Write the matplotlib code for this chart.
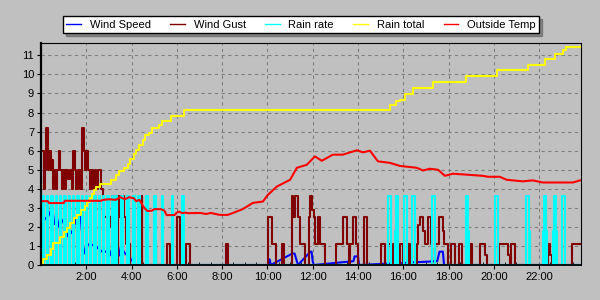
import numpy as np
import matplotlib
matplotlib.use("Agg")
import matplotlib.pyplot as plt
from matplotlib.ticker import MultipleLocator, FixedLocator

plt.rcParams['font.family'] = ['Liberation Sans', 'DejaVu Sans']

# time axis in hours of the day
hour_ticks = [2, 4, 6, 8, 10, 12, 14, 16, 18, 20, 22]
hour_labels = ['2:00', '4:00', '6:00', '8:00', '10:00', '12:00', '14:00',
               '16:00', '18:00', '20:00', '22:00']

# Rain total (step curve)
total_t = [0.08, 0.10, 0.25, 0.45, 0.55, 0.85, 1.0, 1.15, 1.3, 1.45, 1.6, 1.75,
           1.95, 2.05, 2.15, 2.25, 2.35, 2.45, 2.6, 3.1, 3.3, 3.45, 3.65, 3.85,
           3.95, 4.1, 4.2, 4.35, 4.5, 4.6, 4.75, 4.9, 5.2, 5.35, 5.75, 6.3,
           15.41, 15.70, 15.85, 16.07, 16.42, 17.31, 18.79, 20.12, 21.49,
           22.25, 22.69, 23.05, 23.17, 23.85]
total_v = [0.0, 0.3, 0.55, 0.85, 1.15, 1.45, 1.75, 1.95, 2.2, 2.45, 2.6, 2.9,
           3.1, 3.3, 3.5, 3.7, 3.95, 4.1, 4.25, 4.45, 4.7, 4.95, 5.1, 5.3,
           5.55, 5.8, 6.05, 6.3, 6.55, 6.8, 6.95, 7.2, 7.35, 7.55, 7.8, 8.12,
           8.42, 8.6, 8.68, 8.98, 9.3, 9.6, 9.91, 10.23, 10.5,
           10.8, 11.09, 11.3, 11.45, 11.45]

# Outside temperature
temp_t = [0.08, 0.3, 0.35, 1.0, 1.05, 2.65, 2.75, 3.0, 3.3, 3.5, 3.7, 3.9, 4.1,
          4.2, 4.35, 4.5, 4.6, 4.7, 4.9, 5.0, 5.3, 5.45, 5.55, 5.9, 6.0, 6.1,
          6.25, 6.35, 6.5, 7.02, 7.3, 7.5, 7.9, 8.25, 8.48, 8.92, 9.36, 9.8,
          10.02, 10.42, 11.0, 11.3, 11.74, 12.1, 12.4, 12.89, 13.33, 13.95,
          14.22, 14.53, 14.88, 15.41, 15.85, 16.6, 16.87, 17.17, 17.53, 17.84,
          18.19, 18.81, 19.51, 19.74, 20.26, 20.57, 21.28, 21.72, 22.16,
          23.49, 23.8, 23.85]
temp_v = [3.35, 3.35, 3.25, 3.25, 3.37, 3.37, 3.42, 3.45, 3.42, 3.56, 3.45,
          3.56, 3.5, 3.35, 3.42, 3.1, 2.95, 2.83, 2.85, 2.93, 2.93, 2.85, 2.62,
          2.62, 2.75, 2.8, 2.72, 2.75, 2.72, 2.73, 2.68, 2.73, 2.63, 2.63,
          2.73, 2.94, 3.26, 3.33, 3.68, 4.12, 4.47, 5.1, 5.26, 5.7, 5.47, 5.79,
          5.79, 6.02, 5.91, 6.0, 5.44, 5.36, 5.2, 5.1, 4.96, 5.05, 5.0, 4.68,
          4.79, 4.74, 4.68, 4.63, 4.63, 4.47, 4.39, 4.44, 4.33, 4.33, 4.44,
          4.44]

# Wind gust (step curve)
gust_t = [0.08, 0.13, 0.18, 0.22, 0.30, 0.36, 0.42, 0.48, 0.52, 0.58, 0.66,
          0.70, 0.78, 0.84, 0.92, 0.98, 1.05, 1.12, 1.2, 1.28, 1.35, 1.42, 1.5,
          1.56, 1.62, 1.72, 1.8, 1.88, 1.95, 2.0, 2.08, 2.15, 2.22, 2.3, 2.38,
          2.45, 2.52, 2.6, 2.66, 2.72, 2.95, 3.05, 3.12, 3.2, 3.28, 3.38,
          3.45, 3.5, 3.66, 3.75, 3.82, 3.88, 3.95, 4.45, 4.48, 5.05, 5.1, 5.55,
          5.7, 6.0, 6.15, 6.42, 6.58, 8.18, 8.25,
          10.04, 10.21, 10.36, 10.63, 10.73, 11.07, 11.14, 11.21, 11.33, 11.43,
          11.65, 11.85, 11.88, 11.98, 12.06, 12.1, 12.25, 12.32, 12.54,
          13.02, 13.35, 13.5, 13.62, 13.64, 13.76, 13.91, 14.0, 14.26, 14.38,
          15.01, 15.19, 15.33, 15.48, 15.55, 15.65, 15.85, 15.98, 16.19, 16.29,
          16.59, 16.66, 16.73, 16.88, 16.98, 17.1, 17.22, 17.28, 17.4, 17.6,
          17.76, 17.8, 17.98, 18.1, 18.3, 18.45, 18.6, 18.94, 19.04, 19.41,
          19.6, 19.7, 20.22, 20.63, 20.7, 20.78, 20.93, 22.4, 22.5, 22.55,
          23.46, 23.85]
gust_v = [6.0, 4.0, 5.0, 7.2, 5.0, 6.0, 5.0, 5.5, 4.0, 5.0, 4.0,
          5.0, 6.0, 5.0, 4.0, 5.0, 4.0, 5.0, 4.5, 5.0, 4.0, 6.0, 5.0,
          4.0, 5.0, 4.0, 7.2, 6.0, 5.0, 6.0, 5.0, 4.0, 5.0, 4.0, 5.0,
          4.0, 5.0, 5.0, 4.0, 2.5, 2.0, 2.5, 3.6, 2.5, 0.0, 3.6,
          2.5, 3.6, 2.5, 1.1, 2.2, 1.1, 0.0, 3.6, 0.0, 1.1, 0.0, 1.1,
          0.0, 2.5, 0.0, 1.1, 0.0, 1.1, 0.0,
          2.5, 1.1, 0.0, 1.1, 0.0, 3.6, 2.5, 3.6, 2.5, 1.1,
          0.0, 2.5, 3.6, 2.9, 2.5, 1.1, 2.5, 1.1, 0.0,
          1.1, 2.5, 1.1, 0.0, 1.1, 2.5, 1.1, 0.0, 2.5, 0.0,
          1.1, 0.0, 1.1, 0.0, 1.1, 0.0, 1.1, 0.0, 1.1, 0.0,
          1.1, 2.1, 2.5, 1.8, 1.1, 2.5, 1.1, 0.0, 1.1, 2.5,
          1.8, 1.1, 0.0, 1.1, 0.0, 1.1, 0.0, 1.1, 0.0, 1.1,
          0.5, 0.0, 1.1, 0.5, 0.0, 1.1, 0.0, 1.1, 0.5, 0.0,
          1.1, 1.1]

# Wind speed
speed_t = [0.08, 0.10, 0.15, 0.30, 0.45, 0.50, 0.58, 0.75, 0.85, 1.0, 1.2,
           1.4, 1.5, 1.6, 1.75, 1.85, 1.9, 2.05, 2.2, 2.35, 2.5, 2.7, 2.9,
           2.95, 3.1, 3.3, 3.45, 3.55, 3.65, 3.8, 3.9, 4.05, 4.1, 10.05,
           10.1, 10.15, 11.1, 11.2, 11.3, 11.35, 11.9, 11.95, 12.0, 12.05,
           13.8, 13.85, 14.0, 14.05, 17.5, 17.6, 17.75, 17.8, 23.85]
speed_v = [0.0, 2.9, 2.4, 2.5, 2.9, 3.0, 2.2, 2.0, 2.5, 2.2, 1.5,
           1.8, 2.4, 2.0, 2.6, 1.1, 0.6, 1.1, 1.0, 1.1, 0.9, 0.7, 0.7,
           1.0, 0.5, 0.9, 0.5, 1.1, 0.7, 0.5, 0.4, 0.2, 0.0, 0.0,
           0.3, 0.0, 0.6, 0.6, 0.2, 0.0, 0.7, 0.7, 0.2, 0.0,
           0.2, 0.45, 0.45, 0.0, 0.2, 0.7, 0.7, 0.0, 0.0]

# Rain rate: wet intervals (start, end, level)
rain_on = [0.08, 0.27, 0.46, 0.65, 0.84, 1.03, 1.22, 1.41, 1.6, 1.79, 1.98,
           2.17, 2.36, 2.55, 2.74, 2.93, 3.12, 3.27, 3.52, 3.8, 4.06, 4.3,
           4.64, 5.0, 5.33, 5.78, 6.21,
           15.33, 15.64, 15.68, 16.03, 16.38, 17.27, 18.76, 18.86, 20.05,
           21.40, 21.44, 21.55, 22.16, 22.2, 22.31, 22.62, 22.65, 22.75,
           23.0, 23.03, 23.13]
rain_off = [0.14, 0.33, 0.52, 0.71, 0.90, 1.09, 1.28, 1.47, 1.66, 1.85, 2.04,
            2.23, 2.42, 2.61, 2.80, 2.99, 3.18, 3.35, 3.60, 3.88, 4.13, 4.38,
            4.71, 5.07, 5.41, 5.85, 6.33,
            15.45, 15.68, 15.78, 16.15, 16.5, 17.4, 18.86, 18.9, 20.17,
            21.44, 21.55, 21.59, 22.2, 22.31, 22.35, 22.65, 22.75, 22.78,
            23.03, 23.13, 23.16]
rain_lvl = [3.6] * 27 + [3.6, 1.8, 3.6, 3.6, 3.6, 3.6, 3.6, 1.8, 3.6,
                         1.8, 3.6, 1.8, 1.8, 3.6, 1.8, 1.8, 3.6, 1.8,
                         1.8, 3.6, 1.8]

rain_t = [0.08]
rain_v = [0.0]
for a, b, lv in zip(rain_on, rain_off, rain_lvl):
    rain_t += [a, b]
    rain_v += [lv, 0.0]
rain_t.append(23.85)
rain_v.append(0.0)

bg = '#c0c0c0'
fig = plt.figure(figsize=(6, 3), dpi=100, facecolor=bg)
ax = fig.add_axes([41/600, 1 - 265/300, 540/600, 222/300], facecolor=bg)

ax.plot(speed_t, speed_v, color='#0000ff', lw=1.5, label='Wind Speed')
ax.plot(gust_t, gust_v, color='#800000', lw=1.5, drawstyle='steps-post',
        label='Wind Gust')
ax.plot(rain_t, rain_v, color='#00ffff', lw=1.5, drawstyle='steps-post',
        label='Rain rate')
ax.plot(total_t, total_v, color='#ffff00', lw=1.5, drawstyle='steps-post',
        label='Rain total')
ax.plot(temp_t, temp_v, color='#ff0000', lw=1.5, label='Outside Temp')

ax.set_xlim(0, 23.85)
ax.set_ylim(0, 11.65)
ax.xaxis.set_major_locator(FixedLocator(hour_ticks))
ax.set_xticklabels(hour_labels)
ax.xaxis.set_minor_locator(MultipleLocator(0.5))
ax.yaxis.set_major_locator(MultipleLocator(1))
ax.tick_params(axis='both', which='major', labelsize=8, length=3,
               direction='out', colors='black', pad=2)
ax.tick_params(axis='x', which='minor', length=2, direction='in')
ax.grid(True, which='major', color='#808080', linestyle=(0, (3, 3)), lw=0.8)
ax.set_axisbelow(True)

ax.spines['left'].set_linewidth(1.6)
ax.spines['bottom'].set_linewidth(1.3)
ax.spines['top'].set_linewidth(0.8)
ax.spines['right'].set_linewidth(0.8)

leg = fig.legend(loc='lower left', ncol=5, mode='expand',
                 bbox_to_anchor=(63/600, 1 - 33/300, 476/600, 19/300),
                 fontsize=8, frameon=True, fancybox=False, shadow=True,
                 handlelength=1.3, handletextpad=0.8, borderpad=0.3,
                 borderaxespad=0)
leg.get_frame().set_edgecolor('black')
leg.get_frame().set_facecolor('white')
leg.get_frame().set_linewidth(1.0)
for line in leg.get_lines():
    line.set_linewidth(1.0)

fig.savefig('out.png', dpi=100, facecolor=bg)
